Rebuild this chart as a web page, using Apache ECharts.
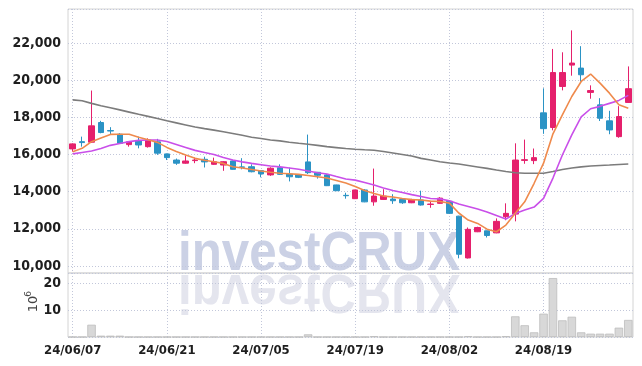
<!DOCTYPE html>
<html>
<head>
<meta charset="utf-8">
<script src="https://cdn.jsdelivr.net/npm/echarts@6/dist/echarts.min.js"></script>
<style>
html,body{margin:0;padding:0;background:#fff;}
#chart{width:642px;height:366px;}
</style>
</head>
<body>
<div id="chart"></div>
<script>
const dates = ['24/06/07','24/06/10','24/06/11','24/06/12','24/06/13','24/06/14',
'24/06/17','24/06/18','24/06/19','24/06/20','24/06/21',
'24/06/24','24/06/25','24/06/26','24/06/27','24/06/28',
'24/07/01','24/07/02','24/07/03','24/07/04','24/07/05',
'24/07/08','24/07/09','24/07/10','24/07/11','24/07/12',
'24/07/15','24/07/16','24/07/17','24/07/18','24/07/19',
'24/07/22','24/07/23','24/07/24','24/07/25','24/07/26',
'24/07/29','24/07/30','24/07/31','24/08/01','24/08/02',
'24/08/05','24/08/06','24/08/07','24/08/08','24/08/09',
'24/08/12','24/08/13','24/08/14','24/08/16',
'24/08/19','24/08/20','24/08/21','24/08/22','24/08/23',
'24/08/26','24/08/27','24/08/28','24/08/29','24/08/30'];

const openP  = [16300,16690,16660,17720,17290,17090,16530,16750,16420,16680,16030,15700,15530,15670,15740,15470,15430,15650,15330,15340,15130,14900,15290,14950,14900,15600,15040,14900,14360,13800,13620,14090,13450,13580,13600,13580,13400,13550,13310,13370,13480,12680,10430,11840,11890,11780,12650,12790,15680,15670,18240,17450,19660,20810,20650,19340,18670,17810,16960,18800];
const closeP = [16570,16640,17540,17180,17260,16600,16680,16510,16780,16070,15830,15530,15650,15700,15600,15610,15610,15200,15310,15070,14950,15260,14930,14800,14770,15020,14880,14320,14050,13780,14090,13450,13760,13760,13510,13400,13580,13280,13330,13650,12830,10630,11970,12070,11640,12400,12830,15700,15720,15830,17390,20410,20410,20920,20290,19440,17950,17320,18040,19540];
const lowP   = [16150,16420,16620,17140,17090,16570,16420,16330,16370,15980,15700,15440,15500,15530,15300,15440,15120,15180,15200,15040,14770,14850,14900,14550,14730,14950,14700,14300,14030,13620,13600,13430,13240,13560,13340,13340,13380,13250,13130,13340,12800,10410,10400,11820,11530,11760,12460,12400,15500,15480,17110,17300,19450,20240,19920,19000,17800,17090,16900,18780];
const highP  = [16600,16960,19440,17810,17470,17150,16700,16960,16870,16840,16050,15780,15950,15830,15880,15830,15640,15680,15800,15470,15140,15310,15470,15290,14940,17070,15060,14950,14370,13940,14100,14140,15240,14130,13860,13600,13610,14050,13450,13700,13500,12700,12070,12110,11900,12560,13370,16600,16800,16320,19560,21680,21500,22680,21830,19720,19030,18350,18600,20740];

const ma5    = [16150,16330,16690,16890,17080,17090,17090,16930,16790,16650,16380,16160,15970,15790,15690,15610,15520,15340,15270,15190,15110,15040,14990,14960,14930,14870,14800,14730,14600,14460,14270,14060,13900,13760,13710,13630,13570,13550,13490,13470,13380,12850,12470,12290,11980,11840,12200,12830,13450,14450,15530,17110,18130,19120,19930,20330,19840,19300,18670,18490];
const ma10   = [16030,16110,16190,16320,16490,16590,16690,16760,16780,16780,16700,16540,16380,16220,16110,16000,15840,15700,15600,15520,15450,15380,15330,15270,15200,15110,15020,14950,14810,14680,14620,14490,14360,14190,14060,13950,13840,13740,13630,13610,13510,13330,13200,13060,12900,12710,12520,12820,13010,13170,13640,14730,15970,17050,18020,18460,18590,18750,18910,19180];
const maLong = [18940,18890,18750,18620,18510,18400,18280,18160,18050,17940,17810,17700,17590,17480,17390,17310,17220,17130,17030,16930,16860,16780,16730,16660,16600,16550,16490,16420,16370,16320,16280,16250,16230,16160,16080,16000,15920,15790,15700,15610,15540,15490,15410,15330,15250,15160,15080,15020,14990,14990,14990,15080,15190,15270,15330,15380,15410,15430,15460,15490];

// volume in millions of shares
const volume = [0,0,4.6,0.5,0.5,0.5,0,0,0,0,0,0,0,0,0,0,0,0,0,0,0,0,0,0,0,1.0,0,0,0,0,0,0,0.3,0,0,0,0,0,0,0,0,0,0.3,0,0,0,0.3,7.75,4.4,1.75,8.75,22.1,6.25,7.6,1.75,1.25,1.25,1.25,3.5,6.4];

const priceTicks = [10000,12000,14000,16000,18000,20000,22000];
const volumeTicks = [10,20];

const LBL_FONT = "'Liberation Sans Narrow','DejaVu Sans Condensed','Roboto',sans-serif";
const UP = '#e5206c', DOWN = '#2b93c5';
const gridDot = {color:'#c2c7da', type:[1,2], width:1};

const chart = echarts.init(document.getElementById('chart'), null, {renderer:'canvas'});

const candles = dates.map((d,i)=>[openP[i], closeP[i], lowP[i], highP[i]]);

const option = {
  animation:false,
  backgroundColor:'#ffffff',
  textStyle:{fontFamily:LBL_FONT},
  grid:[
    {left:68, top:9, width:565, height:264, show:true, borderColor:'#d4d4d4', borderWidth:1, backgroundColor:'transparent'},
    {left:68, top:273, width:565, height:64, show:true, borderColor:'#d4d4d4', borderWidth:1, backgroundColor:'transparent'}
  ],
  xAxis:[
    {type:'category', gridIndex:0, data:dates, boundaryGap:true,
     axisLine:{show:false}, axisTick:{show:false, interval:9, alignWithLabel:true},
     axisLabel:{show:false, interval:9},
     splitLine:{show:true, interval:9, alignWithLabel:true, lineStyle:gridDot}},
    {type:'category', gridIndex:1, data:dates, boundaryGap:true,
     axisLine:{show:false}, axisTick:{show:false, interval:9, alignWithLabel:true},
     axisLabel:{show:true, interval:9, margin:7, fontFamily:LBL_FONT, fontSize:13, fontWeight:'bold', color:'#1e1e1e'},
     splitLine:{show:true, interval:9, alignWithLabel:true, lineStyle:gridDot}}
  ],
  yAxis:[
    {type:'value', gridIndex:0, min:9620, max:23830, splitNumber:7, scale:true,
     axisLine:{show:false}, axisTick:{show:false},
     axisLabel:{margin:7, fontFamily:LBL_FONT, fontSize:14, fontWeight:'bold', color:'#1e1e1e',
       showMinLabel:false, showMaxLabel:false,
       formatter:function(v){ return priceTicks.indexOf(v) >= 0 ? v.toLocaleString('en-US') : ''; }},
     splitLine:{show:true, lineStyle:gridDot}},
    {type:'value', gridIndex:1, min:0, max:24, interval:10,
     axisLine:{show:false}, axisTick:{show:false},
     axisLabel:{margin:7, fontFamily:LBL_FONT, fontSize:14, fontWeight:'bold', color:'#1e1e1e',
       showMinLabel:false, showMaxLabel:false,
       formatter:function(v){ return volumeTicks.indexOf(v) >= 0 ? String(v) : ''; }},
     splitLine:{show:true, lineStyle:gridDot}}
  ],
  graphic:{elements:[
    {type:'text', x:178, y:255, scaleX:0.896, z:-5, silent:true,
     style:{text:'investCRUX', font:"bold 55px 'Liberation Sans', Arial, sans-serif", fill:'#cbd1e5', textAlign:'left', textVerticalAlign:'middle', verticalAlign:'middle'}},
    {type:'text', x:178, y:290.5, scaleX:0.896, scaleY:-1, z:-5, silent:true,
     style:{text:'investCRUX', font:"bold 55px 'Liberation Sans', Arial, sans-serif", fill:'#e4e5ee', textAlign:'left', textVerticalAlign:'middle', verticalAlign:'middle'}},
    {type:'group', x:34, y:304, rotation:Math.PI/2, silent:true, children:[
      {type:'text', x:0, y:0, style:{text:'10', font:"13px 'DejaVu Sans', sans-serif", fill:'#444', textAlign:'center', verticalAlign:'middle', textVerticalAlign:'middle'}},
      {type:'text', x:10, y:-5, style:{text:'6', font:"9px 'DejaVu Sans', sans-serif", fill:'#444', textAlign:'center', verticalAlign:'middle', textVerticalAlign:'middle'}}
    ]}
  ]},
  series:[
    {name:'price', type:'candlestick', xAxisIndex:0, yAxisIndex:0, data:candles, barWidth:6,
     itemStyle:{color:UP, color0:DOWN, borderColor:UP, borderColor0:DOWN, borderWidth:1}},
    {name:'MA long', type:'line', xAxisIndex:0, yAxisIndex:0, data:maLong, showSymbol:false, symbol:'none',
     lineStyle:{color:'#7c7c7c', width:1.6}},
    {name:'MA10', type:'line', xAxisIndex:0, yAxisIndex:0, data:ma10, showSymbol:false, symbol:'none',
     lineStyle:{color:'#c94fe9', width:1.6}},
    {name:'MA5', type:'line', xAxisIndex:0, yAxisIndex:0, data:ma5, showSymbol:false, symbol:'none',
     lineStyle:{color:'#ef8a4c', width:1.6}},
    {name:'volume', type:'bar', xAxisIndex:1, yAxisIndex:1, data:volume, barWidth:'90%',
     itemStyle:{color:'#d8d8d8', borderColor:'#bdbdbd', borderWidth:0.8}}
  ]
};
chart.setOption(option);
</script>
</body>
</html>
